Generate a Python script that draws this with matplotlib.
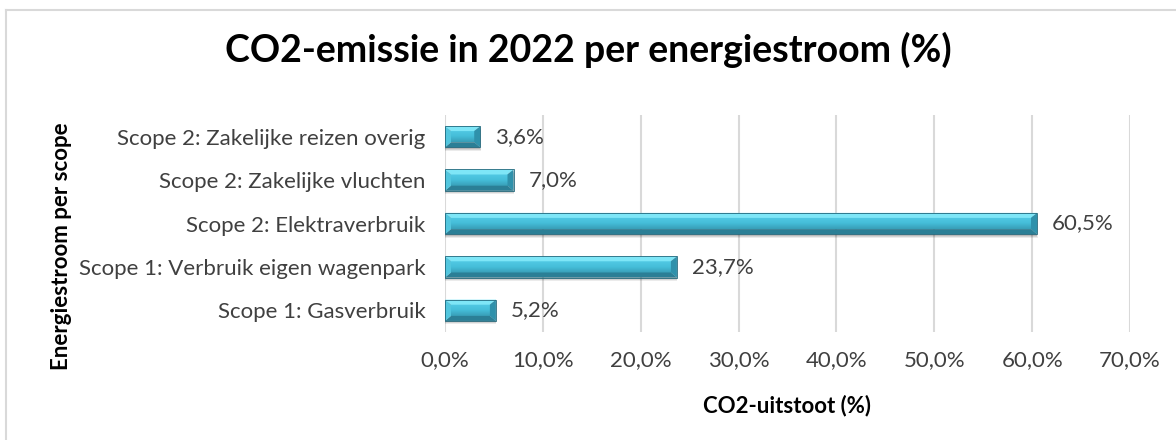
import matplotlib
matplotlib.use("Agg")
import matplotlib.pyplot as plt
from matplotlib.patches import Polygon
from matplotlib.lines import Line2D
import numpy as np

# data, listed top to bottom as in the chart
categories = [
    "Scope 2: Zakelijke reizen overig",
    "Scope 2: Zakelijke vluchten",
    "Scope 2: Elektraverbruik",
    "Scope 1: Verbruik eigen wagenpark",
    "Scope 1: Gasverbruik",
]
values = [3.6, 7.0, 60.5, 23.7, 5.2]
xticks = [0, 10, 20, 30, 40, 50, 60, 70]

plt.rcParams['font.family'] = ['Lato', 'DejaVu Sans']

W, H = 1176, 440
fig = plt.figure(figsize=(W / 100, H / 100), dpi=100)
ax = fig.add_axes([445 / W, 1 - 332 / H, (1130 - 445) / W, (332 - 115) / H])

n = len(categories)
ypos = np.arange(n)[::-1]
ax.set_xlim(0, 70)
ax.set_ylim(-0.5, n - 0.5)

# pixels per data unit, used for the bevel sizes
pxx = (1130 - 445) / 70
pxy = (332 - 115) / n
bx = 6 / pxx
by = 5 / pxy
h = 0.245

grad = np.linspace(0, 1, 64).reshape(-1, 1)
cmap = matplotlib.colors.LinearSegmentedColormap.from_list(
    "bar", ["#389eb7", "#45bdd8", "#52cae4"])

for y, v in zip(ypos, values):
    top, bot = y + h, y - h
    # soft shadow
    for k, a in [(3.5, 0.08), (2.5, 0.10), (1.5, 0.12)]:
        dy = k / pxy
        ax.add_patch(Polygon([(dy * 0.5, bot - dy), (v + dy * 0.6, bot - dy),
                              (v + dy * 0.6, top - dy), (dy * 0.5, top - dy)],
                             closed=True, fc="#000000", alpha=a, ec="none", zorder=2))
    # centre face with gradient
    ax.imshow(grad, cmap=cmap, aspect="auto", origin="lower",
              extent=[bx, v - bx, bot + by, top - by], zorder=3)
    # facets
    ax.add_patch(Polygon([(0, top), (v, top), (v - bx, top - by), (bx, top - by)],
                         fc="#7ee6f7", ec="none", zorder=4))
    ax.add_patch(Polygon([(0, bot), (v, bot), (v - bx, bot + by), (bx, bot + by)],
                         fc="#2b7f96", ec="none", zorder=4))
    ax.add_patch(Polygon([(0, bot), (0, top), (bx, top - by), (bx, bot + by)],
                         fc="#52c6de", ec="none", zorder=4))
    ax.add_patch(Polygon([(v, bot), (v, top), (v - bx, top - by), (v - bx, bot + by)],
                         fc="#2f91ab", ec="none", zorder=4))
    ax.add_patch(Polygon([(0, bot), (v, bot), (v, top), (0, top)], closed=True,
                         fc="none", ec="#22687c", lw=0.6, zorder=5))
    ax.text(v + 15 / pxx, y, f"{v:.1f}%".replace(".", ","), va="center", ha="left",
            fontsize=16, color="#404040", zorder=6)

ax.set_xticks(xticks)
ax.set_xticklabels([f"{t:.1f}%".replace(".", ",") for t in xticks])
ax.set_yticks(ypos)
ax.set_yticklabels(categories)
ax.tick_params(axis="both", length=0, labelsize=16, labelcolor="#404040")
ax.tick_params(axis="x", pad=13)
ax.tick_params(axis="y", pad=14)
ax.grid(axis="x", color="#d9d9d9", lw=1.5, zorder=0)
ax.set_axisbelow(True)
for s in ax.spines.values():
    s.set_visible(False)

fig.text(0.5, 1 - 50 / H, "CO2-emissie in 2022 per energiestroom (%)", ha="center",
         va="center", fontsize=27, fontweight="bold", color="#000000")
fig.text(62 / W, 1 - 246 / H, "Energiestroom per scope", rotation=90, ha="center",
         va="center", fontsize=16, fontweight="bold", color="#000000")
fig.text(787 / W, 1 - 406 / H, "CO2-uitstoot (%)", ha="center", va="center",
         fontsize=16, fontweight="bold", color="#000000")

# chart frame (only left and top edges visible)
fig.add_artist(Line2D([6 / W, 6 / W], [0, 1 - 10 / H], color="#d9d9d9", lw=1.5))
fig.add_artist(Line2D([6 / W, 1], [1 - 10 / H, 1 - 10 / H], color="#d9d9d9", lw=1.5))

fig.savefig("out.png", dpi=100, facecolor="white")
